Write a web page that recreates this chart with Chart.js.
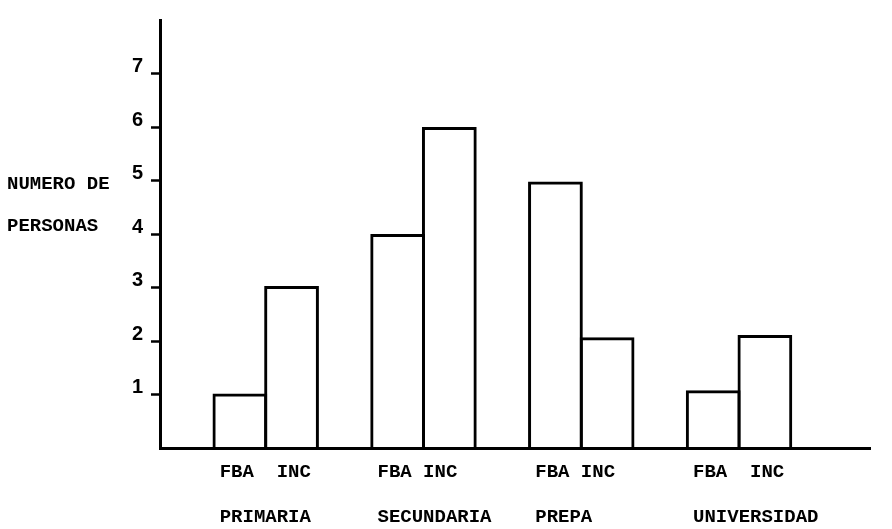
<!DOCTYPE html>
<html>
<head>
<meta charset="utf-8">
<script src="https://cdn.jsdelivr.net/npm/chart.js@4/dist/chart.umd.min.js"></script>
<style>
  html, body { margin: 0; padding: 0; background: #ffffff; }
  #wrap { position: relative; width: 892px; height: 529px; }
</style>
</head>
<body>
<div id="wrap"><canvas id="c" width="892" height="529"></canvas></div>
<script>
// ---- data ----
const categories = ['PRIMARIA', 'SECUNDARIA', 'PREPA', 'UNIVERSIDAD'];
const seriesNames = ['FBA', 'INC'];
const subLabels = ['FBA  INC', 'FBA INC', 'FBA INC', 'FBA  INC'];
const fbaValues = [1.02, 4.0, 4.98, 1.08];
const incValues = [3.03, 6.0, 2.07, 2.11];
const yTickValues = [1, 2, 3, 4, 5, 6, 7];
const yTitleLines = ['NUMERO DE', 'PERSONAS'];

const monoFont = '"Liberation Mono", "DejaVu Sans Mono", monospace';
const sansFont = '"Liberation Sans", Arial, sans-serif';

const toPoints = vals => vals.map((v, i) => ({ x: i + 1, y: v }));

const barStyle = {
  backgroundColor: 'rgba(255,255,255,0)',
  borderColor: '#000000',
  borderWidth: 3,
  categoryPercentage: 0.655,
  barPercentage: 1.06
};

const yTitlePlugin = {
  id: 'yTitle',
  afterDraw(chart) {
    const ctx = chart.ctx;
    ctx.save();
    ctx.fillStyle = '#000';
    ctx.font = 'bold 19px ' + monoFont;
    ctx.textAlign = 'left';
    ctx.textBaseline = 'alphabetic';
    ctx.fillText(yTitleLines[0], 7, 189);
    ctx.fillText(yTitleLines[1], 7, 231);
    ctx.restore();
  }
};

new Chart(document.getElementById('c'), {
  type: 'bar',
  data: {
    datasets: [
      Object.assign({ label: seriesNames[0], data: toPoints(fbaValues) }, barStyle),
      Object.assign({ label: seriesNames[1], data: toPoints(incValues) }, barStyle)
    ]
  },
  options: {
    responsive: false,
    devicePixelRatio: 1,
    animation: false,
    layout: { padding: { top: 11, right: 22, bottom: 0, left: 0 } },
    plugins: {
      legend: { display: false },
      tooltip: { enabled: false },
      title: { display: false }
    },
    scales: {
      x: {
        type: 'linear',
        min: 0.33,
        max: 4.83,
        offset: false,
        grid: { display: false, drawTicks: false },
        border: { display: true, color: '#000', width: 3 },
        afterBuildTicks: scale => { scale.ticks = categories.map((c, i) => ({ value: i + 1 })); },
        afterFit: scale => { scale.height = 81; },
        ticks: {
          autoSkip: false,
          maxRotation: 0,
          align: 'start',
          labelOffset: -46,
          padding: 2,
          color: '#000',
          font: { family: monoFont, size: 19, weight: 'bold', lineHeight: '45px' },
          callback: (value) => {
            const i = Math.round(value) - 1;
            return i >= 0 && i < categories.length ? [subLabels[i], categories[i]] : '';
          }
        }
      },
      y: {
        min: 0,
        max: 8,
        afterFit: scale => { scale.width = 160; },
        grid: {
          drawOnChartArea: false,
          drawTicks: true,
          tickLength: 9,
          tickWidth: 2.5,
          tickColor: ctx => (ctx.tick && yTickValues.includes(ctx.tick.value)) ? '#000' : 'rgba(0,0,0,0)'
        },
        border: { display: true, color: '#000', width: 3 },
        ticks: {
          stepSize: 1,
          padding: 8,
          labelOffset: -7,
          color: '#000',
          font: { family: sansFont, size: 20, weight: 'bold' },
          callback: v => yTickValues.includes(v) ? String(v) : ''
        }
      }
    }
  },
  plugins: [yTitlePlugin]
});
</script>
</body>
</html>
